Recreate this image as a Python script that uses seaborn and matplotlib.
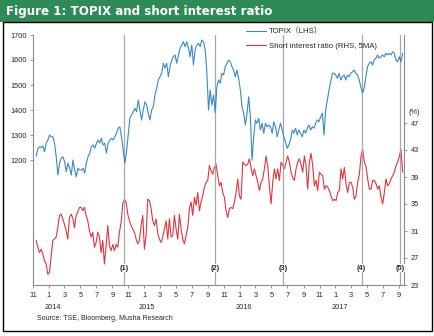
import matplotlib
matplotlib.use("Agg")
import matplotlib.pyplot as plt
import matplotlib.dates as mdates
from matplotlib.patches import Rectangle
from matplotlib.lines import Line2D
import numpy as np
import pandas as pd
import seaborn as sns

# ---------------- data ----------------
topix = [
    1215, 1245, 1253, 1250, 1256, 1233, 1267, 1280, 1300, 1293, 1293, 1267, 1213, 1140,
    1187, 1207, 1213, 1193, 1153, 1187, 1167, 1140, 1200, 1160, 1133, 1167, 1160, 1160,
    1167, 1147, 1187, 1213, 1227, 1253, 1260, 1247, 1267, 1280, 1267, 1287, 1260, 1267,
    1227, 1267, 1280, 1287, 1280, 1293, 1307, 1327, 1333, 1293, 1240, 1187, 1233, 1300,
    1367, 1380, 1393, 1407, 1393, 1440, 1400, 1360, 1400, 1433, 1420, 1387, 1360, 1400,
    1413, 1460, 1487, 1520, 1533, 1547, 1587, 1567, 1587, 1533, 1573, 1600, 1613, 1620,
    1587, 1620, 1647, 1660, 1673, 1653, 1673, 1647, 1613, 1660, 1580, 1640, 1660, 1667,
    1653, 1680, 1673, 1640, 1553, 1400, 1480, 1420, 1460, 1390,
    1493, 1520, 1507, 1547, 1540, 1573, 1587, 1600, 1593, 1573, 1560, 1533, 1560, 1527,
    1480, 1413, 1387, 1340, 1387, 1453, 1373, 1200, 1293, 1360, 1347, 1367, 1320, 1347,
    1307, 1347, 1333, 1340, 1333, 1307, 1353, 1333, 1293, 1320, 1347, 1320, 1293, 1273,
    1247, 1260,
    1280, 1320, 1307, 1327, 1300, 1320, 1307, 1293, 1320, 1307, 1327, 1340, 1320, 1333,
    1327, 1347, 1360, 1353, 1373, 1387, 1300, 1400, 1440, 1480, 1513, 1547, 1547, 1540,
    1527, 1547, 1520, 1533, 1540, 1520, 1540, 1533, 1547, 1553, 1560, 1547,
    1540, 1520, 1493, 1467, 1487, 1533, 1573, 1587, 1593, 1580, 1600, 1607, 1620, 1607,
    1613, 1620, 1613, 1627, 1620, 1627, 1620, 1633, 1627, 1600, 1593, 1613, 1593, 1627,
]

short_ratio = [
    29.6, 28.6, 27.8, 28.3, 27.6, 26.6, 26.1, 24.6, 24.9, 27.3, 29.6, 29.8, 30.1, 31.5,
    33.3, 33.5, 32.8, 32.0, 31.0, 29.8, 33.0, 33.5, 32.9, 31.5, 33.3, 33.8, 34.5, 34.5,
    34.0, 34.5, 33.3, 32.5, 31.0, 30.1, 30.8, 28.6, 29.3, 30.8, 30.1, 27.8, 29.6, 26.1,
    28.8, 31.8, 28.8, 28.1, 29.0, 28.1, 29.0, 28.6, 30.8, 32.3, 35.0, 35.7, 35.3, 33.5,
    32.5,
    31.8, 31.3, 30.8, 29.8, 29.1, 29.6, 31.8, 33.3, 28.3, 30.3, 35.7, 35.5, 34.3, 32.5,
    31.8, 32.8, 30.6, 29.8, 29.3, 30.1, 31.3, 32.5, 29.8, 32.8, 30.1, 30.3, 33.3, 31.3,
    29.8, 33.5, 31.3, 29.8, 29.1, 30.3, 31.5, 34.3, 35.3, 33.3, 36.0, 34.8, 36.7, 34.0,
    35.3, 36.2, 37.5, 38.2, 38.5, 40.7, 39.9, 39.4, 40.4, 40.9, 39.2, 37.7, 38.2, 36.7,
    36.0, 34.0, 33.0, 34.3, 34.5, 34.3, 35.3, 36.7, 38.7, 36.2, 35.7, 41.2, 40.9, 40.7,
    40.9, 41.7, 40.4, 39.2, 40.2, 39.2, 38.2, 37.0, 38.2, 38.7, 40.2, 42.1, 40.7, 37.7,
    35.0, 38.2, 40.2, 38.7, 40.2, 38.5,
    41.2, 40.7, 40.2, 41.2, 42.1, 41.2, 39.7, 38.9, 38.5, 40.2, 41.2, 41.7, 40.9, 39.7,
    42.1, 40.7, 37.2, 41.2, 42.5, 40.7, 37.7, 38.5, 37.0, 39.7, 39.4, 39.2, 37.2, 37.7,
    37.5, 37.0, 36.2, 35.5, 35.7, 35.5, 36.7, 37.0, 40.2, 38.7, 40.4, 38.0, 36.7, 38.2,
    38.2, 37.5, 35.7, 36.2, 38.2, 39.4, 42.1, 43.1, 41.2, 40.5, 38.7, 37.2, 37.2, 38.5,
    38.5, 38.0, 37.2, 37.7, 36.0, 35.0, 36.7, 38.7, 37.7, 38.0, 38.7, 39.2, 39.7, 40.7,
    41.2, 42.1, 43.1, 39.7,
]

topix_dates = pd.date_range("2013-11-13", "2017-09-15", periods=len(topix))
short_dates = pd.date_range("2013-11-13", "2017-09-15", periods=len(short_ratio))

event_dates = ["2014-10-16", "2015-09-29", "2016-06-15", "2017-04-11", "2017-09-06"]
event_labels = ["(1)", "(2)", "(3)", "(4)", "(5)"]

left_ticks = [1200, 1300, 1400, 1500, 1600, 1700]
right_ticks = [23, 27, 31, 35, 39, 43, 47]
years = ["2014", "2015", "2016", "2017"]
year_pos = ["2014-01-15", "2015-01-10", "2016-01-18", "2017-01-18"]

title = "Figure 1: TOPIX and short interest ratio"
source = "Source: TSE, Bloomberg, Musha Research"
label_topix = "TOPIX（LHS）"
label_short = "Short interest ratio (RHS, 5MA)"

df_t = pd.DataFrame({"date": topix_dates, "value": topix})
df_s = pd.DataFrame({"date": short_dates, "value": short_ratio})

# ---------------- style ----------------
sns.set_style("white")
plt.rcParams["font.family"] = ["Liberation Sans", "Noto Sans CJK JP", "DejaVu Sans"]

BLUE = "#3b88c6"
RED = "#e3343c"
GREEN = "#2e8b57"
GRAY = "#8c8c8c"
VGRAY = "#a8a8a8"

W, H = 435, 336
fig = plt.figure(figsize=(W / 100, H / 100), dpi=100)
fig.patch.set_facecolor("white")

# header bar and frame
fig.patches.append(Rectangle((0, 1 - 22 / H), 1, 22 / H, transform=fig.transFigure,
                             facecolor=GREEN, edgecolor="none", zorder=0))
fig.patches.append(Rectangle((3 / W, 1 - 331 / H), 429 / W, (331 - 22) / H,
                             transform=fig.transFigure, facecolor="none",
                             edgecolor="black", linewidth=1.0, zorder=0))
fig.text(6 / W, 1 - 11.5 / H, title, color="white", fontsize=8.6, fontweight="bold",
         va="center", ha="left", family=["DejaVu Sans"])

ax = fig.add_axes([33 / W, 1 - 285 / H, (404.5 - 33) / W, (285 - 35) / H])
ax2 = ax.twinx()

sns.lineplot(data=df_t, x="date", y="value", ax=ax, color=BLUE, linewidth=0.8, legend=False)
sns.lineplot(data=df_s, x="date", y="value", ax=ax2, color=RED, linewidth=0.8, legend=False)

xmin, xmax = pd.Timestamp("2013-11-01"), pd.Timestamp("2017-09-22")
ax.set_xlim(xmin, xmax)
ax.set_ylim(700, 1700)
ax2.set_ylim(23, 23 + 250 / 6.75)

ax.set_yticks(left_ticks)
ax2.set_yticks(right_ticks)
ax.set_xlabel("")
ax.set_ylabel("")
ax2.set_ylabel("")

ax.xaxis.set_major_locator(mdates.MonthLocator(bymonth=[1, 3, 5, 7, 9, 11]))
ax.xaxis.set_major_formatter(mdates.DateFormatter("%-m"))

for a in (ax, ax2):
    for s in a.spines.values():
        s.set_color(GRAY)
        s.set_linewidth(0.8)
    a.spines["top"].set_visible(False)
    a.grid(False)
ax.spines["right"].set_visible(False)
ax2.spines["left"].set_visible(False)
ax2.spines["bottom"].set_visible(False)

ax.tick_params(axis="y", which="both", direction="out", length=2.5, width=0.6,
               color=GRAY, labelsize=5.3, pad=2, left=True)
ax.tick_params(axis="x", which="both", direction="out", length=2, width=0.6,
               color=GRAY, labelsize=5.3, pad=3, bottom=True)
ax2.tick_params(axis="y", direction="out", length=2.5, width=0.6, color=GRAY,
                labelsize=5.3, pad=2, right=True)

ax2.text(1.012, (47 - 23 + 1.0) / (250 / 6.75), "(%)", transform=ax2.transAxes,
         fontsize=5.3, ha="left", va="bottom")

# year labels
for yl, yp in zip(years, year_pos):
    ax.text(mdates.date2num(pd.Timestamp(yp)), -0.075, yl, transform=ax.get_xaxis_transform(),
            fontsize=5.3, ha="center", va="top")

# event lines
for d, lab in zip(event_dates, event_labels):
    xd = pd.Timestamp(d)
    ax.axvline(xd, color=VGRAY, linewidth=0.9, zorder=1)
    ax.text(mdates.date2num(xd), (285 - 268) / 250, lab, transform=ax.get_xaxis_transform(),
            fontsize=5.3, fontweight="bold", ha="center", va="center", zorder=5,
            bbox=dict(facecolor="white", edgecolor="none", pad=0.6))

ax.set_zorder(ax2.get_zorder() + 1)
ax.patch.set_visible(False)

# legend
handles = [Line2D([], [], color=BLUE, linewidth=0.8), Line2D([], [], color=RED, linewidth=0.8)]
leg = ax.legend(handles, [label_topix, label_short], loc="upper left",
                bbox_to_anchor=((246 - 33) / 371.5, 1 + (35 - 28) / 250),
                frameon=False, fontsize=5.6, handlelength=2.6, handletextpad=0.3,
                labelspacing=0.85, borderaxespad=0, borderpad=0)

fig.text(37 / W, 1 - 319 / H, source, fontsize=5.0, ha="left", va="center")

fig.savefig("out.png", dpi=100, facecolor="white")
